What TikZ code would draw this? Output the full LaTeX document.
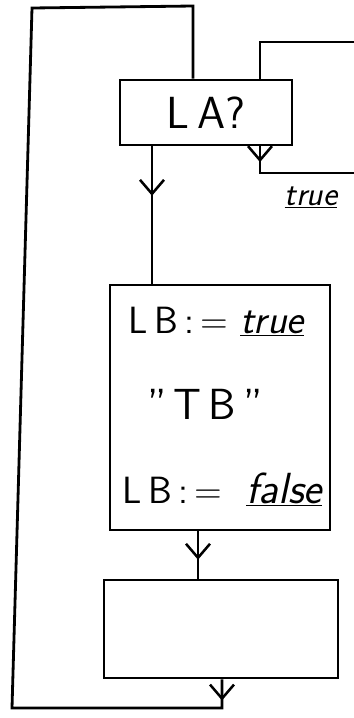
\documentclass[tikz,border=0pt]{standalone}
\usepackage{tikz}
\usetikzlibrary{arrows.meta,positioning,decorations.markings}

\begin{document}
\begin{tikzpicture}[x=0.25mm,y=-0.25mm,line width=2pt,font=\sffamily,
  box/.style={draw,line width=2pt,inner sep=0pt},
  txt/.style={inner sep=0pt,font=\fontsize{27}{30}\selectfont\sffamily},
  kw/.style={inner sep=0pt,font=\fontsize{24}{26}\selectfont\sffamily\itshape},
  flow/.style={postaction={decorate},decoration={markings,mark=at position #1 with {\arrow{Straight Barb[length=3.5mm,width=6mm,line width=1.8pt]}}}}]
\useasboundingbox (0,0) rectangle (354,718);
% boxes
\node[box,minimum width=43mm,minimum height=16.25mm,font=\fontsize{32}{36}\selectfont\sffamily] (la) at (206,112.5) {L\,A?};
\node[box,minimum width=55mm,minimum height=61.25mm] (lb) at (220,407.5) {};
\node[box,minimum width=58.5mm,minimum height=24.5mm] (nx) at (221,629) {};
% texts in lb
\node[txt,anchor=base west] (set1) at (127,333) {L\,B\,:\,=\hspace{3mm}{\fontsize{29}{30}\selectfont\itshape\underline{true}}};
\node[txt,font=\fontsize{31}{34}\selectfont\sffamily] (tb) at (205,404) {''\,T\,B\,''};
\node[txt,anchor=base west] (set2) at (121,503) {L\,B\,:\,=\hspace{6mm}{\fontsize{31}{34}\selectfont\itshape\underline{false}}};
\node[kw,anchor=base] (tr) at (311,205) {\underline{true}};
% loop ends
\coordinate (r1) at (354,42);
\coordinate (r2) at (354,173);
\coordinate (bt) at (222,708);
% connectors
\draw[flow=0.36] (la.south -| 152,0) -- (lb.north -| 152,0);
\draw[flow=0.6] (lb.south -| 198,0) -- (nx.north -| 198,0);
\draw (la.north -| 260,0) |- (r1);
\draw[flow=0.13] (la.south -| 260,0) |- (r2);
\draw[flow=0.018] (nx.south -| bt) -- (bt) -- (12,708) -- (32,8) -- (193,6) -- (la.north -| 193,0);
\end{tikzpicture}
\end{document}
